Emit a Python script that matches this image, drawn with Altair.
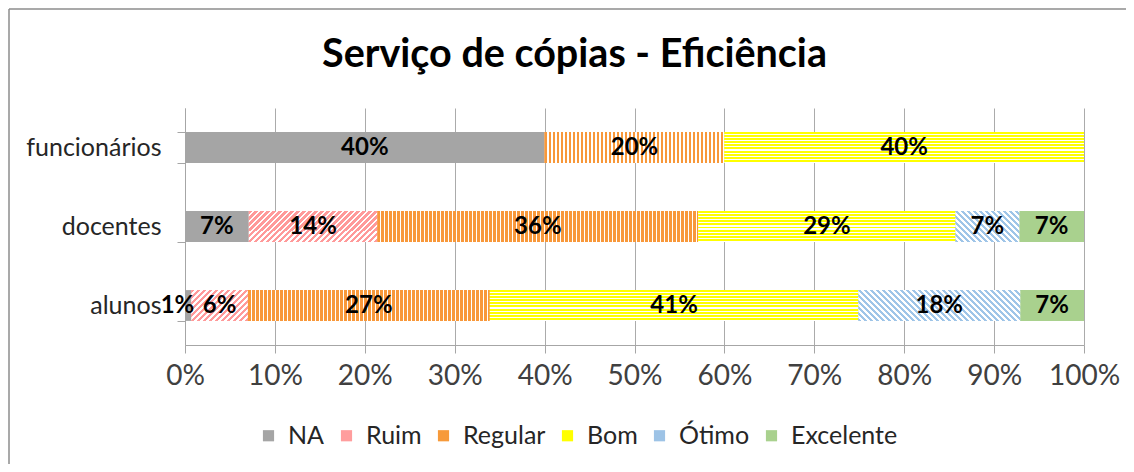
import math
import altair as alt
import pandas as pd

# ---------------- data ----------------
grupos = ["funcionários", "docentes", "alunos"]
categorias = ["NA", "Ruim", "Regular", "Bom", "Ótimo", "Excelente"]
funcionarios = [0.400, 0.0, 0.200, 0.400, 0.0, 0.0]
docentes = [0.071, 0.143, 0.357, 0.286, 0.071, 0.072]
alunos = [0.007, 0.063, 0.269, 0.410, 0.180, 0.071]

cores_legenda = ["#A5A5A5", "#FF9D9D", "#F79A3A", "#FFFF00", "#9DC3E6", "#A9D18E"]

FONT = "Lato"
W_PLOT = 899
H_PLOT = 237
BAR_H = 31

rows = []
for g, vals in zip(grupos, [funcionarios, docentes, alunos]):
    for i, (c, v) in enumerate(zip(categorias, vals)):
        if v > 0:
            rows.append({"grupo": g, "categoria": c, "ordem": i, "valor": v})
df = pd.DataFrame(rows)


# ---------------- pattern fills (striped gradients) ----------------
def _stops(col, length, period, on):
    stops = []
    n = int(math.ceil(length / period))
    for k in range(n):
        a = min(1.0, k * period / length)
        b = min(1.0, (k * period + on) / length)
        e = min(1.0, (k + 1) * period / length)
        stops += [(col, a), (col, b), ("#FFFFFF", b), ("#FFFFFF", e)]
    return [alt.GradientStop(color=c, offset=round(o, 5)) for c, o in stops]


def vertical(col, W, period=4.0, on=2.6):
    return alt.LinearGradient(gradient="linear", x1=0, y1=0, x2=1, y2=0,
                              stops=_stops(col, W, period, on))


def horizontal(col, H, period=3.1, on=2.0):
    return alt.LinearGradient(gradient="linear", x1=0, y1=0, x2=0, y2=1,
                              stops=_stops(col, H, period, on))


def diagonal(col, W, H, up=True, period=6.0, on=3.2):
    s = (W + H) * W / (W * W + H * H)
    st = _stops(col, W + H, period, on)
    if up:  # "/"
        return alt.LinearGradient(gradient="linear", x1=0, y1=0, x2=s, y2=s * H / W, stops=st)
    return alt.LinearGradient(gradient="linear", x1=0, y1=1, x2=s, y2=1 - s * H / W, stops=st)


def fill_for(cat, W):
    if cat == "Ruim":
        return diagonal("#FF9A9A", W, BAR_H, up=True)
    if cat == "Regular":
        return vertical("#F8983A", W)
    if cat == "Bom":
        return horizontal("#FFFF00", BAR_H)
    if cat == "Ótimo":
        return diagonal("#9FC5E8", W, BAR_H, up=False)
    return None


# ---------------- encodings ----------------
x_scale = alt.Scale(domain=[0, 1], nice=False, zero=True)
x_axis = alt.Axis(title=None, format="%", values=[i / 10 for i in range(11)],
                  grid=True, gridColor="#ABABAB", domainColor="#A6A6A6",
                  tickColor="#A6A6A6", tickSize=8, labelPadding=9,
                  labelFlush=False, labelOverlap=False,
                  labelFont=FONT, labelFontSize=28, labelColor="#404040")
y_enc = alt.Y("grupo:N", sort=grupos,
              scale=alt.Scale(paddingInner=0.61, paddingOuter=0.305),
              axis=alt.Axis(title=None, tickBand="extent", tickSize=8, grid=False,
                            domainColor="#A6A6A6", tickColor="#A6A6A6",
                            labelPadding=16, labelFont=FONT, labelFontSize=25,
                            labelColor="#262626"))

base = alt.Chart().mark_bar(strokeWidth=0).encode(
    x=alt.X("x0:Q", scale=x_scale, axis=x_axis),
    x2="x1:Q",
    y=y_enc,
    color=alt.Color("categoria:N",
                    scale=alt.Scale(domain=categorias, range=cores_legenda),
                    legend=alt.Legend(title=None, orient="none", legendX=71, legendY=315,
                                      direction="horizontal", columns=6,
                                      symbolType="square", symbolSize=125,
                                      symbolStrokeWidth=0, labelFont=FONT,
                                      labelFontSize=25, labelColor="#262626",
                                      columnPadding=9, labelOffset=7)),
)

layers = [base]
for r in rows:
    W = r["valor"] * W_PLOT
    f = fill_for(r["categoria"], W)
    if f is None:
        continue
    layers.append(
        alt.Chart().mark_bar(fill=f, strokeWidth=0).encode(
            x=alt.X("x0:Q", scale=x_scale, axis=x_axis),
            x2="x1:Q",
            y=y_enc,
        ).transform_filter(
            f"datum.grupo === '{r['grupo']}' && datum.categoria === '{r['categoria']}'"
        )
    )

labels = alt.Chart().mark_text(font=FONT, fontWeight="bold", fontSize=24, color="black").encode(
    x=alt.X("xm:Q", scale=x_scale, axis=x_axis),
    y=y_enc,
    text=alt.Text("valor:Q", format=".0%"),
).transform_filter("datum.valor >= 0.02").transform_calculate(xm="(datum.x0 + datum.x1) / 2")

labels_small = alt.Chart().mark_text(font=FONT, fontWeight="bold", fontSize=24, color="black",
                                     align="right", dx=3).encode(
    x=alt.X("x1:Q", scale=x_scale, axis=x_axis),
    y=y_enc,
    text=alt.Text("valor:Q", format=".0%"),
).transform_filter("datum.valor < 0.02")
layers += [labels, labels_small]

main = alt.layer(*layers, data=df).transform_stack(
    stack="valor", groupby=["grupo"], as_=["x0", "x1"],
    sort=[alt.SortField("ordem", order="ascending")],
)

frame_data = pd.DataFrame({"k": [0]})
border_top = alt.Chart(frame_data).mark_rule(color="#8C8C8C", strokeWidth=1.5).encode(
    x=alt.value(-176), x2=alt.value(945), y=alt.value(-99))
border_left = alt.Chart(frame_data).mark_rule(color="#8C8C8C", strokeWidth=1.5).encode(
    x=alt.value(-176), y=alt.value(-99), y2=alt.value(360))

chart = alt.layer(main, border_top, border_left).properties(
    width=W_PLOT, height=H_PLOT,
    autosize="none",
    padding={"left": 177, "top": 100, "right": 42, "bottom": 119},
    title=alt.Title("Serviço de cópias - Eficiência", font=FONT, fontSize=39.5,
                    fontWeight="bold", color="black", anchor="middle", frame="group",
                    dx=-60, offset=-67),
).configure_view(stroke=None)

chart.save("out.html", embed_options={"renderer": "svg", "actions": False})
